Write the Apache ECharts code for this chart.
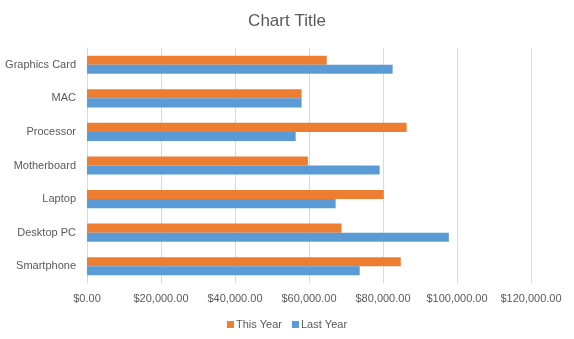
<!DOCTYPE html>
<html><head><meta charset="utf-8">
<script src="https://cdn.jsdelivr.net/npm/echarts@6/dist/echarts.min.js"></script>
<style>html,body{margin:0;padding:0;background:#fff}#c{width:574px;height:339px}</style>
</head><body><div id="c"></div>
<script>
const categories = ["Smartphone", "Desktop PC", "Laptop", "Motherboard", "Processor", "MAC", "Graphics Card"];
const thisYear = [84800, 68800, 80200, 59700, 86400, 58000, 64800];
const lastYear = [73700, 97800, 67200, 79100, 56400, 58000, 82600];
const xTicks = [0, 20000, 40000, 60000, 80000, 100000, 120000];

const FONT = "Liberation Sans";
const chart = echarts.init(document.getElementById('c'), null, {renderer: 'canvas'});
chart.setOption({
  animation: false,
  title: {text: "Chart Title", left: 'center', top: 8,
    textStyle: {fontFamily: FONT, fontSize: 17, fontWeight: 'normal', color: '#595959'}},
  legend: {data: ["This Year", "Last Year"], bottom: 4, left: 'center', itemWidth: 7, itemHeight: 7, itemGap: 10,
    icon: 'rect', textStyle: {fontFamily: FONT, fontSize: 11, color: '#595959', padding: [0, 0, 0, -3]}},
  grid: {left: 87, right: 43, top: 48, bottom: 56, containLabel: false},
  xAxis: {type: 'value', min: xTicks[0], max: xTicks[xTicks.length - 1], interval: 20000,
    axisLine: {show: false}, axisTick: {show: false},
    splitLine: {lineStyle: {color: '#d9d9d9', width: 1}},
    axisLabel: {margin: 10, fontFamily: FONT, fontSize: 11, color: '#595959',
      formatter: v => '$' + v.toLocaleString('en-US', {minimumFractionDigits: 2, maximumFractionDigits: 2})}},
  yAxis: {type: 'category', data: categories,
    axisLine: {show: true, lineStyle: {color: '#d9d9d9'}}, axisTick: {show: false},
    axisLabel: {margin: 11, fontFamily: FONT, fontSize: 11, color: '#595959'}},
  series: [
    {name: "This Year", type: 'bar', data: thisYear, itemStyle: {color: '#ed7d31'}, barGap: '0%', barCategoryGap: '46%'},
    {name: "Last Year", type: 'bar', data: lastYear, itemStyle: {color: '#5b9bd5'}, barGap: '0%', barCategoryGap: '46%'}
  ]
});
</script></body></html>
